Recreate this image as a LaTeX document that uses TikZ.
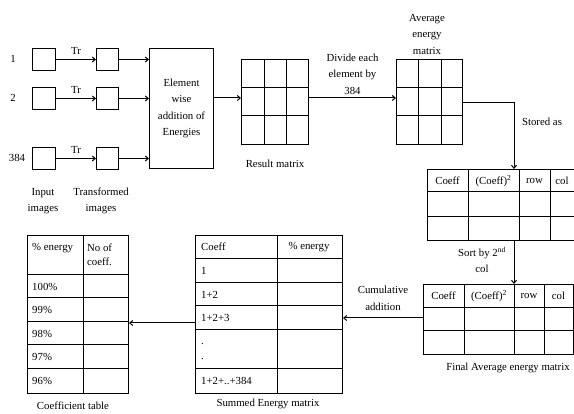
\documentclass[tikz,border=0pt]{standalone}
\usepackage{fontspec}
\setmainfont{Liberation Serif}
\usetikzlibrary{arrows.meta,calc}
\begin{document}
\begin{tikzpicture}[x=1pt,y=-1pt,
  box/.style={draw, line width=1pt, inner sep=0pt, anchor=north west},
  gridline/.style={line width=1pt},
  conn/.style={draw, line width=1pt, -{Straight Barb[length=3pt,width=5pt]}},
  txt/.style={font=\fontsize{10.8}{16.5}\selectfont, inner sep=0pt, align=center},
  ltxt/.style={font=\fontsize{10.8}{16.5}\selectfont, inner sep=0pt, anchor=west, align=left}]
\useasboundingbox (0,0) rectangle (574,414);

% input and transformed images
\node[box, minimum width=23pt, minimum height=22pt] (in1) at (32,48) {};
\node[box, minimum width=23pt, minimum height=22pt] (in2) at (32,87) {};
\node[box, minimum width=23pt, minimum height=22pt] (in3) at (32,147) {};
\node[box, minimum width=22pt, minimum height=22pt] (tr1) at (96,48) {};
\node[box, minimum width=22pt, minimum height=22pt] (tr2) at (96,87) {};
\node[box, minimum width=22pt, minimum height=22pt] (tr3) at (96,147) {};
\node[txt] (n1) at (13,59) {1};
\node[txt] (n2) at (13,98) {2};
\node[txt] (n3) at (17,158) {384};
\node[txt] (lin) at (43,201) {Input\\images};
\node[txt] (ltr) at (101,201) {Transformed\\images};

\node[box, minimum width=64pt, minimum height=120pt] (elem) at (149,48) {};
\node[txt] (elemtxt) at (elem.center) {Element\\wise\\addition of\\Energies};

\draw[conn] (in1.east) -- node[txt, above=4pt] (trl1) {Tr} (tr1.west);
\draw[conn] (in2.east) -- node[txt, above=4pt] (trl2) {Tr} (tr2.west);
\draw[conn] (in3.east) -- node[txt, above=4pt] (trl3) {Tr} (tr3.west);
\draw[conn] (tr1.east) -- (tr1.east -| elem.west);
\draw[conn] (tr2.east) -- (tr2.east -| elem.west);
\draw[conn] (tr3.east) -- (tr3.east -| elem.west);

% result matrix
\node[box, minimum width=67pt, minimum height=85pt] (res) at (241,59) {};
\draw[gridline] (264,59)--(264,144) (286,59)--(286,144) (241,88)--(308,88) (241,116)--(308,116);
\node[txt] (lres) at (275,164) {Result matrix};
\coordinate (k0) at (0,98);
\draw[conn] (elem.east |- k0) -- (res.west |- k0);

% average matrix
\node[box, minimum width=66pt, minimum height=85pt] (avg) at (396,59) {};
\draw[gridline] (418,59)--(418,144) (441,59)--(441,144) (396,88)--(462,88) (396,116)--(462,116);
\node[txt] (lavg) at (427,34) {Average\\energy\\matrix};
\draw[conn] (res.east |- k0) -- node[txt, above=3pt] (ldiv) {Divide each\\element by\\384} (avg.west |- k0);

% stored table
\node[box, minimum width=147pt, minimum height=71pt] (t1) at (427,169) {};
\draw[gridline] (468,169)--(468,240) (519,169)--(519,240) (550,169)--(550,240) (427,192)--(574,192) (427,217)--(574,217);
\node[txt] (t1a) at (447.5,181) {Coeff};
\node[txt] (t1b) at (493.5,181) {(Coeff)\textsuperscript{2}};
\node[txt] (t1c) at (534.5,181) {row};
\node[txt] (t1d) at (562,181) {col};
\coordinate (k1) at (514,103);
\draw[conn] (avg.east |- k1) -| (k1 |- t1.north);
\node[txt] (lstored) at (542,122) {Stored as};

% final table
\node[box, minimum width=150pt, minimum height=70pt] (t2) at (423,284) {};
\draw[gridline] (464,284)--(464,354) (514,284)--(514,354) (544,284)--(544,354) (423,308)--(573,308) (423,331)--(573,331);
\node[txt] (t2a) at (443.5,296) {Coeff};
\node[txt] (t2b) at (489,296) {(Coeff)\textsuperscript{2}};
\node[txt] (t2c) at (529,296) {row};
\node[txt] (t2d) at (558.5,296) {col};
\node[txt] (lfinal) at (508,368) {Final Average energy matrix};
\draw[conn] (k1 |- t1.south) -- (k1 |- t2.north);
\node[txt] (lsort) at (482,260) {Sort by 2\textsuperscript{nd}\\col};

% summed table
\node[box, minimum width=147pt, minimum height=158pt] (sum) at (195,235) {};
\draw[gridline] (277,235)--(277,393) (195,259)--(342,259) (195,283)--(342,283) (195,306)--(342,306) (195,330)--(342,330) (195,369)--(342,369);
\node[ltxt] (s0) at (201,247) {Coeff};
\node[txt] (s0b) at (309,247) {\% energy};
\node[ltxt] (s1) at (201,271) {1};
\node[ltxt] (s2) at (201,295) {1+2};
\node[ltxt] (s3) at (201,318) {1+2+3};
\node[ltxt] (s4) at (201,344) {.};
\node[ltxt] (s5) at (201,359) {.};
\node[ltxt] (s6) at (201,381) {1+2+..+384};
\node[txt] (lsum) at (268,404) {Summed Energy matrix};
\coordinate (k2) at (0,318);
\draw[conn] (t2.west |- k2) -- node[txt, above=7pt] (lcum) {Cumulative\\addition} (sum.east |- k2);

% coefficient table
\node[box, minimum width=101pt, minimum height=158pt] (coef) at (27,235) {};
\draw[gridline] (83,235)--(83,393) (27,275)--(128,275) (27,298)--(128,298) (27,322)--(128,322) (27,345)--(128,345) (27,369)--(128,369);
\node[ltxt] (c0) at (32,248) {\% energy};
\node[ltxt, font=\fontsize{10.8}{14}\selectfont] (c0b) at (87,255) {No of\\coeff.};
\node[ltxt] (c1) at (32,287) {100\%};
\node[ltxt] (c2) at (32,310) {99\%};
\node[ltxt] (c3) at (32,334) {98\%};
\node[ltxt] (c4) at (32,357) {97\%};
\node[ltxt] (c5) at (32,381) {96\%};
\node[txt] (lcoef) at (73,406) {Coefficient table};
\coordinate (k3) at (0,323);
\draw[conn] (sum.west |- k3) -- (coef.east |- k3);
\end{tikzpicture}
\end{document}
